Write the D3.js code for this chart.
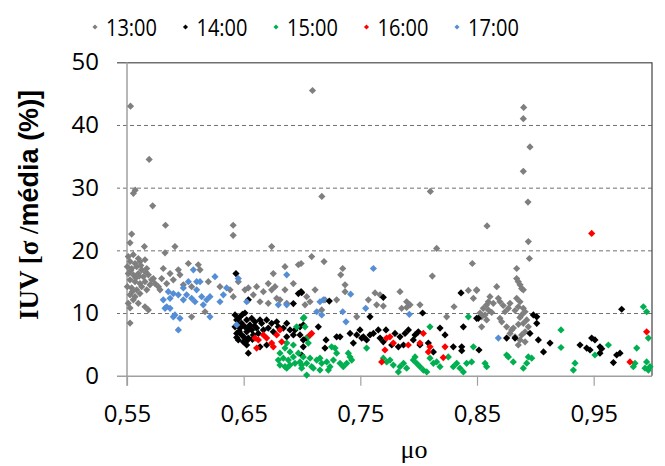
<!DOCTYPE html>
<html>
<head>
<meta charset="utf-8">
<script src="https://cdn.jsdelivr.net/npm/d3@7"></script>
<style>
  body { margin: 0; background: #fff; }
  svg { display: block; }
</style>
</head>
<body>
<svg id="chart" width="665" height="466"></svg>
<script>
// series names and colours
let series = ["13:00", "14:00", "15:00", "16:00", "17:00"];
let colors = ["#7f7f7f", "#000000", "#00b050", "#ff0000", "#558ed5"];

let xTicks = [0.55, 0.65, 0.75, 0.85, 0.95];
let yTicks = [0, 10, 20, 30, 40, 50];

// [mu0, IUV]
let t13 = [
  [0.553,43.0],[0.569,34.5],[0.5555,29.1],[0.557,29.6],[0.572,27.1],[0.583,24.0],[0.641,24.0],[0.641,22.4],
  [0.709,45.5],[0.717,28.6],[0.81,29.4],[0.890,42.8],[0.8897,41.0],[0.8954,36.5],[0.8897,32.6],[0.8937,27.7],[0.8586,23.9],
  [0.554,22.6],[0.5526,21.2],[0.5649,20.6],[0.5911,20.6],[0.5826,19.6],[0.674,20.6],
  [0.5511,19.0],[0.5554,19.3],[0.5597,18.7],[0.5526,18.2],[0.5569,17.9],[0.5611,18.2],[0.5654,18.5],
  [0.5503,17.4],[0.554,17.1],[0.5583,17.4],[0.5626,16.9],[0.5669,17.1],[0.5511,16.3],[0.5554,16.1],
  [0.5597,16.3],[0.564,15.8],[0.5683,16.1],[0.5711,15.3],[0.5526,15.3],[0.5569,15.0],[0.5611,14.7],
  [0.5654,15.0],[0.5697,14.5],[0.5503,14.2],[0.554,14.0],[0.5583,13.7],[0.5626,14.2],[0.5669,13.7],
  [0.5526,12.9],[0.5569,12.6],[0.5611,13.1],[0.5554,12.1],[0.5511,11.55],[0.5597,11.55],[0.5654,11.0],
  [0.5683,10.5],[0.5526,10.8],[0.5726,15.5],[0.574,14.7],[0.5769,14.2],[0.5526,8.4],
  [0.5532,16.8],[0.5575,15.6],[0.5618,17.6],[0.5662,16.5],[0.5545,13.4],[0.5605,15.9],
  [0.5811,17.1],[0.5869,16.3],[0.594,16.9],[0.5954,16.1],[0.6026,17.9],[0.6111,17.7],[0.6126,16.9],
  [0.5797,15.5],[0.584,14.7],[0.5897,15.3],[0.5783,13.7],[0.5983,14.5],[0.6054,14.2],[0.6197,15.0],
  [0.6297,14.2],[0.6054,9.4],[0.6169,10.2],[0.6383,13.7],[0.6411,12.6],[0.6454,15.0],[0.6511,13.7],
  [0.654,14.0],[0.6611,14.2],[0.664,11.8],[0.6711,14.7],[0.674,13.7],[0.6754,16.3],[0.6783,12.35],
  [0.6854,17.4],[0.6854,13.7],[0.6926,14.7],[0.6969,17.7],[0.6711,11.55],[0.6811,12.1],[0.6869,11.55],
  [0.6669,13.4],[0.6769,14.2],[0.6583,12.9],
  [0.6992,17.9],[0.7083,19.0],[0.7189,18.2],[0.7349,17.1],[0.7332,16.1],[0.8154,20.3],[0.846,17.9],
  [0.8117,15.9],[0.7112,13.7],[0.704,12.6],[0.7069,11.8],[0.7026,11.3],[0.7197,12.1],[0.7169,10.5],
  [0.7297,12.1],[0.7369,14.5],[0.7369,13.4],[0.7626,13.2],[0.7669,12.9],[0.7697,11.1],[0.7569,12.1],
  [0.764,11.3],[0.784,13.4],[0.7897,11.8],[0.7926,11.3],[0.7854,10.75],[0.7897,10.9],[0.8011,11.3],
  [0.7469,9.4],[0.824,9.4],[0.8303,11.0],[0.8426,13.6],[0.8497,13.6],[0.8469,12.35],
  [0.894,21.4],[0.8949,18.7],[0.884,17.1],[0.884,15.5],[0.8854,15.0],[0.8869,14.5],[0.8883,13.9],
  [0.8897,13.7],[0.8669,14.2],[0.8497,13.7],[0.8611,12.6],[0.8597,11.8],[0.8583,11.3],[0.8554,10.75],
  [0.8526,10.0],[0.854,9.4],[0.8597,10.5],[0.8569,9.7],[0.8583,8.9],[0.854,7.8],[0.8683,12.35],
  [0.8697,11.8],[0.8783,11.55],[0.8769,10.75],[0.874,10.2],[0.8697,9.15],[0.8712,8.6],[0.8754,7.8],
  [0.8783,6.75],[0.8797,7.3],[0.8826,6.2],[0.884,12.35],[0.8869,11.8],[0.8854,11.0],[0.8897,10.75],
  [0.8912,10.2],[0.8883,9.7],[0.8926,8.9],[0.8897,8.35],[0.894,7.8],[0.8912,7.0],[0.8883,6.5],
  [0.8869,5.7],[0.8854,4.9],[0.8912,5.4],[0.864,11.55],
  [0.8826,10.4],[0.8855,8.2],[0.8868,9.3],[0.8812,7.6],[0.8626,10.1],[0.8725,11.2]
];

let t14 = [
  [0.6434,16.3],[0.654,12.1],[0.6969,13.1],[0.6926,11.5],
  [0.6426,9.7],[0.6469,9.4],[0.6511,10.0],[0.644,8.9],[0.6483,8.35],[0.6526,8.9],[0.6569,9.15],
  [0.6426,7.8],[0.6469,7.6],[0.6511,7.8],[0.6554,8.1],[0.6597,8.6],[0.664,8.9],[0.644,6.75],
  [0.6483,6.5],[0.6526,7.0],[0.6569,7.3],[0.6611,7.6],[0.6654,8.35],[0.6697,8.9],[0.674,8.35],
  [0.6783,8.6],[0.6454,5.7],[0.6497,5.4],[0.654,6.0],[0.6583,6.5],[0.6626,6.75],[0.6669,7.3],
  [0.6711,7.6],[0.6754,7.0],[0.6797,7.8],[0.684,7.6],[0.6869,8.35],[0.6897,7.3],[0.694,7.3],
  [0.6983,7.8],[0.654,3.6],[0.664,4.6],[0.6697,4.9],[0.6869,6.2],[0.6926,6.5],[0.6983,6.5],
  [0.7011,5.7],[0.6526,4.9],
  [0.6455,9.0],[0.6448,8.1],[0.6462,7.1],[0.6505,6.1],[0.6548,7.5],[0.6490,9.8],[0.6530,5.6],
  [0.6440,6.1],[0.6575,5.8],[0.6595,7.9],
  [0.6992,13.4],[0.6997,13.25],[0.7234,11.9],[0.7583,9.4],[0.7697,12.5],[0.8034,10.0],[0.8363,13.2],
  [0.8511,9.15],[0.7011,8.1],[0.714,7.8],[0.704,6.0],[0.7011,4.6],[0.6997,3.3],[0.7206,5.7],
  [0.7197,4.4],[0.7297,6.2],[0.7326,6.2],[0.7412,6.75],[0.7469,6.5],[0.7497,7.3],[0.7526,6.2],
  [0.7554,5.7],[0.7583,6.5],[0.7612,6.75],[0.7654,7.3],[0.744,5.2],[0.7512,6.0],[0.772,7.3],
  [0.7797,6.75],[0.784,6.2],[0.7912,7.3],[0.7969,6.5],[0.7997,7.0],[0.7954,5.7],[0.7826,4.6],
  [0.787,4.9],[0.8083,5.2],[0.8126,3.8],[0.8183,7.6],[0.8226,6.5],[0.8297,4.6],[0.8383,7.8],
  [0.8369,4.6],[0.8369,4.0],[0.7669,6.0],[0.7697,5.4],[0.7769,4.9],[0.7883,6.75],[0.8011,4.9],
  [0.974,10.6],[0.8497,9.15],[0.8983,9.7],[0.9012,9.4],[0.9012,8.35],[0.8954,6.75],[0.8517,4.1],
  [0.8754,6.0],[0.8826,6.0],[0.9026,5.7],[0.907,3.8],[0.9126,5.2],[0.9383,4.9],[0.944,4.4],
  [0.9469,4.1],[0.9483,6.0],[0.9511,5.7],[0.9554,4.6],[0.9554,3.6],[0.9569,4.3],[0.9697,3.3],
  [0.9726,3.6],[0.9669,2.1]
];

let t15 = [
  [0.7011,9.15],[0.6954,7.8],[0.6811,3.6],[0.6854,4.4],[0.6897,3.8],[0.6797,2.5],[0.684,2.8],
  [0.6883,2.5],[0.6926,3.0],[0.6969,3.6],[0.6811,1.7],[0.6854,1.44],[0.6897,1.7],[0.694,1.97],
  [0.6983,2.2],[0.6869,1.2],[0.6997,1.2],[0.6926,4.9],[0.6869,5.2],
  [0.7017,9.3],[0.7026,7.8],[0.7054,6.2],[0.7054,5.2],[0.6997,1.7],[0.704,1.97],[0.7083,1.44],
  [0.7126,2.5],[0.7169,1.97],[0.7212,2.2],[0.7097,1.2],[0.7154,0.9],[0.704,0.1],[0.7254,4.6],
  [0.7283,4.4],[0.7297,3.6],[0.7397,3.6],[0.7412,3.0],[0.7426,2.5],[0.7326,1.97],[0.7354,1.44],
  [0.7383,1.97],[0.724,1.44],[0.7226,0.9],[0.7554,4.4],[0.7697,2.8],[0.7726,2.2],[0.7754,2.5],
  [0.7783,1.7],[0.784,1.44],[0.7826,0.6],[0.787,1.97],[0.7897,1.2],[0.7954,2.5],[0.7983,1.97],
  [0.8011,1.44],[0.804,0.9],[0.8069,0.6],[0.7969,3.0],[0.8097,7.8],[0.8097,2.8],[0.8126,1.97],
  [0.8154,2.2],[0.8183,1.44],[0.8254,3.0],[0.8297,1.44],[0.8326,1.97],[0.8354,1.2],[0.8383,0.6],
  [0.8411,1.97],[0.8454,2.2],[0.8469,4.6],[0.8426,9.4],[0.7011,3.0],[0.7069,2.8],[0.7154,2.8],
  [0.7269,2.5],
  [0.922,7.3],[0.922,4.5],[0.8754,3.3],[0.8769,3.0],[0.8811,2.2],[0.894,3.0],[0.8926,2.0],
  [0.8897,1.2],[0.8969,2.8],[0.934,2.0],[0.9326,0.9],[0.9626,4.9],[0.9511,3.3],[0.9869,4.4],
  [0.9926,11.0],[0.9954,10.2],[0.9969,6.0],[0.984,1.44],[0.9854,1.97],[0.9954,2.2],[0.9983,1.44],
  [0.9969,0.9],[0.994,1.2],[0.8569,1.97],[0.8583,1.44]
];

let t16 = [
  [0.6597,6.0],[0.6611,4.4],[0.6697,6.0],[0.674,5.2],[0.6783,6.5],[0.6811,7.3],[0.6826,5.4],
  [0.6626,5.7],[0.6754,4.6],[0.6669,6.5],[0.7069,6.5],[0.7083,6.75],
  [0.7725,6.0],[0.7754,6.2],[0.7783,5.2],[0.7711,4.1],[0.7683,2.2],[0.7911,4.9],[0.8011,5.2],
  [0.8097,4.6],[0.8083,3.8],[0.8226,4.6],[0.8211,2.9],[0.804,6.75],
  [0.9483,22.7],[0.9954,7.0],[0.9811,2.2]
];

let t17 = [
  [0.6069,16.9],[0.6254,15.8],[0.6026,15.0],[0.6097,15.0],[0.6126,15.0],[0.5854,13.4],[0.5897,13.1],
  [0.5811,12.1],[0.5869,12.35],[0.594,12.9],[0.5983,12.1],[0.6011,12.9],[0.6054,12.35],[0.6083,11.8],
  [0.614,12.6],[0.6183,12.1],[0.6211,12.6],[0.6297,11.8],[0.6326,12.9],[0.6354,14.0],[0.584,11.0],
  [0.5826,10.75],[0.5869,10.75],[0.5911,9.7],[0.5954,9.15],[0.5897,9.4],[0.594,7.3],[0.6211,9.4],
  [0.5983,14.0],[0.6097,13.7],[0.6154,11.3],[0.6454,15.5],[0.6869,16.1],[0.6869,11.3],[0.6797,11.3],
  [0.644,8.1],[0.6526,11.8],
  [0.7612,17.1],[0.7154,11.8],[0.7183,12.1],[0.7126,10.2],[0.7169,9.7],[0.7417,13.0],[0.7349,10.2],
  [0.7377,8.6],[0.7546,10.75],[0.792,9.8],[0.8683,6.0]
];

let data = [t13, t14, t15, t16, t17];

let svg = d3.select("#chart");
svg.append("rect").attr("width", 665).attr("height", 466).attr("fill", "#fff");

let x = d3.scaleLinear().domain([0.55, 1.0]).range([127, 652]);
let y = d3.scaleLinear().domain([0, 50]).range([375.7, 62.3]);

let locale = d3.formatLocale({decimal: ",", thousands: ".", grouping: [3], currency: ["", ""]});

// horizontal grid + y labels
let yAxis = svg.append("g")
  .attr("transform", "translate(652,0)")
  .call(d3.axisLeft(y).tickValues(yTicks).tickSize(535).tickPadding(18));
yAxis.select(".domain").remove();
yAxis.selectAll(".tick line")
  .attr("stroke", (d) => d == 0 ? "#a0a0a0" : "#707070")
  .attr("stroke-width", (d) => (d == 50 || d == 0) ? 1.5 : 1)
  .attr("stroke-dasharray", (d) => (d == 0 || d == 50) ? null : "4,3");
yAxis.selectAll("text")
  .attr("font-family", "Open Sans")
  .attr("font-size", 24)
  .attr("fill", "#000");

// x axis ticks + labels
let xAxis = svg.append("g")
  .attr("transform", "translate(0," + y(0) + ")")
  .call(d3.axisBottom(x).tickValues(xTicks).tickSize(10).tickPadding(19)
    .tickFormat(locale.format(".2f")));
xAxis.select(".domain").remove();
xAxis.selectAll(".tick line").attr("stroke", "#a0a0a0").attr("stroke-width", 1.2);
xAxis.selectAll("text")
  .attr("font-family", "Open Sans")
  .attr("font-size", 24)
  .attr("fill", "#000");

// left axis line and right border
svg.append("line")
  .attr("x1", x(0.55)).attr("x2", x(0.55))
  .attr("y1", y(50)).attr("y2", y(0) + 10)
  .attr("stroke", "#a0a0a0").attr("stroke-width", 1.5);
svg.append("line")
  .attr("x1", x(1.0)).attr("x2", x(1.0))
  .attr("y1", y(50)).attr("y2", y(0))
  .attr("stroke", "#505050").attr("stroke-width", 1.3);

// points, series in order so later ones sit on top
let diamond = d3.symbol().type(d3.symbolSquare).size(26);
let plot = svg.append("g");
data.forEach((pts, i) => {
  plot.append("g")
    .selectAll("path")
    .data(pts)
    .enter()
    .append("path")
    .attr("d", diamond)
    .attr("transform", (d) => "translate(" + x(d[0]) + "," + y(d[1]) + ") rotate(45)")
    .attr("fill", colors[i]);
});

// legend
let lx = d3.scalePoint().domain(series).range([95, 457]);
let legend = svg.append("g");
series.forEach((s, i) => {
  legend.append("path")
    .attr("d", d3.symbol().type(d3.symbolSquare).size(13))
    .attr("transform", "translate(" + lx(s) + ",27) rotate(45)")
    .attr("fill", colors[i]);
  legend.append("text")
    .attr("x", lx(s) + 11)
    .attr("y", 36)
    .attr("font-family", "Open Sans")
    .attr("font-size", 24)
    .attr("textLength", 51)
    .attr("lengthAdjust", "spacingAndGlyphs")
    .text(s);
});

// axis titles
svg.append("text")
  .attr("x", 414).attr("y", 458)
  .attr("text-anchor", "middle")
  .attr("font-family", "Liberation Serif")
  .attr("font-size", 26)
  .text("μo");

let yt = svg.append("text")
  .attr("transform", "translate(29,205) rotate(-90)")
  .attr("text-anchor", "middle")
  .attr("dominant-baseline", "central")
  .attr("font-size", 27)
  .attr("font-weight", "bold");
yt.append("tspan").attr("font-family", "Liberation Serif").text("IUV [σ /");
yt.append("tspan").attr("font-family", "Liberation Sans").text("média (%)]");
</script>
</body>
</html>
